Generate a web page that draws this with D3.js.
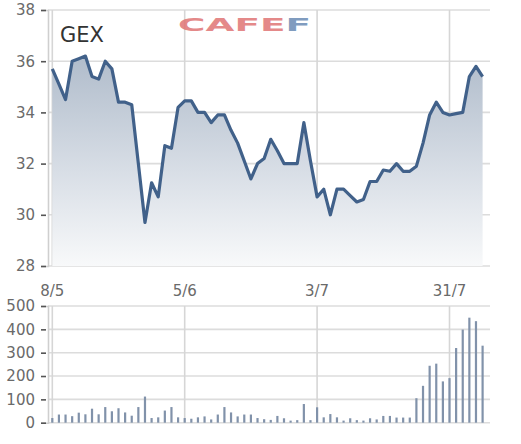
<!DOCTYPE html>
<html><head><meta charset="utf-8">
<script src="https://cdn.jsdelivr.net/npm/d3@7"></script>
<style>
html,body{margin:0;padding:0;background:#fff;}
svg{display:block;}
</style></head>
<body>
<svg id="c" width="521" height="444"></svg>
<script>
const dates = ["08/05","09/05","10/05","13/05","14/05","15/05","16/05","17/05","20/05","21/05",
"22/05","23/05","24/05","27/05","28/05","29/05","30/05","31/05","03/06","04/06",
"05/06","06/06","07/06","10/06","11/06","12/06","13/06","14/06","17/06","18/06",
"19/06","20/06","21/06","24/06","25/06","26/06","27/06","28/06","01/07","02/07",
"03/07","04/07","05/07","08/07","09/07","10/07","11/07","12/07","15/07","16/07",
"17/07","18/07","19/07","22/07","23/07","24/07","25/07","26/07","29/07","30/07",
"31/07","01/08","02/08","05/08","06/08","07/08"];
const prices = [35.7,35.1,34.5,36.0,36.1,36.2,35.4,35.3,36.0,35.7,
34.4,34.4,34.3,32.0,29.7,31.25,30.7,32.7,32.6,34.2,
34.45,34.45,34.0,34.0,33.6,33.9,33.9,33.3,32.8,32.1,
31.4,32.0,32.2,32.95,32.5,32.0,32.0,32.0,33.6,32.1,
30.7,31.0,30.0,31.0,31.0,30.75,30.5,30.6,31.3,31.3,
31.75,31.7,32.0,31.7,31.7,31.9,32.8,33.9,34.4,34.0,
33.9,33.95,34.0,35.4,35.8,35.4];
const volumes = [20,35,35,28,43,36,60,36,67,49,
62,44,30,67,112,20,23,52,67,23,
20,17,23,27,14,35,67,44,27,35,
35,20,15,12,29,19,9,11,80,11,
66,23,37,23,9,19,11,9,19,14,
29,29,22,22,22,105,158,244,253,177,
191,320,399,450,435,330];
const tickDates = ["08/05","05/06","03/07","31/07"];
const tickLabels = ["8/5","5/6","3/7","31/7"];
const priceTicks = [28,30,32,34,36,38];
const volTicks = [0,100,200,300,400,500];
const symbol = "GEX";

const svg = d3.select("#c");
const font = "'DejaVu Sans', Verdana, sans-serif";
const axisX = 48, rightX = 490;
const x = d3.scalePoint().domain(dates).range([52.3, 482.6]);
const yP = d3.scaleLinear().domain([28,38]).range([266,10]);
const yV = d3.scaleLinear().domain([0,500]).range([422.7,306]);

const defs = svg.append("defs");
const g = defs.append("linearGradient").attr("id","fillG")
  .attr("gradientUnits","userSpaceOnUse")
  .attr("x1",0).attr("y1",yP(36.2)).attr("x2",0).attr("y2",yP(28));
g.append("stop").attr("offset",0).attr("stop-color","#b0bccb");
g.append("stop").attr("offset",0.55).attr("stop-color","#d8dee6");
g.append("stop").attr("offset",1).attr("stop-color","#f8f9fa");

function panel(yScale, ticks, fmt){
  const grid = svg.append("g");
  grid.selectAll("line.h").data(ticks).join("line")
    .attr("x1",axisX).attr("x2",rightX)
    .attr("y1",d=>yScale(d)).attr("y2",d=>yScale(d))
    .attr("stroke","#dcdcdc").attr("stroke-width",1.6);
  grid.selectAll("line.v").data(tickDates).join("line")
    .attr("x1",d=>x(d)).attr("x2",d=>x(d))
    .attr("y1",yScale.range()[1]).attr("y2",yScale.range()[0])
    .attr("stroke","#d6d6d6").attr("stroke-width",1.6);
  const ax = svg.append("g").attr("transform",`translate(${axisX},0)`)
    .call(d3.axisLeft(yScale).tickValues(ticks).tickSize(7).tickPadding(6).tickFormat(fmt));
  ax.select(".domain").attr("stroke","#cfcfcf").attr("stroke-width",1.6);
  ax.selectAll(".tick line").attr("stroke","#555").attr("stroke-width",1.6).attr("x1",-7).attr("x2",-2);
  ax.selectAll("text").attr("fill","#6a6a6a").style("font-family",font).style("font-size","15px");
  return ax;
}

// price panel
panel(yP, priceTicks, d3.format("d"));

// watermark
const wm = svg.append("g").attr("transform","translate(178,31) scale(2.08,1)")
  .append("text").style("font-family","'DejaVu Sans', sans-serif")
  .style("font-weight","bold").style("font-size","18px").attr("opacity",0.85);
wm.append("tspan").attr("fill","#e07575").text("CAFE");
wm.append("tspan").attr("fill","#6a8bb5").text("F");

const area = d3.area().x((d,i)=>x(dates[i])).y0(yP(28)).y1(d=>yP(d));
svg.append("path").datum(prices).attr("d",area).attr("fill","url(#fillG)");
const line = d3.line().x((d,i)=>x(dates[i])).y(d=>yP(d));
svg.append("path").datum(prices).attr("d",line).attr("fill","none")
  .attr("stroke","#41618a").attr("stroke-width",3.2).attr("stroke-linejoin","round");

svg.append("text").attr("x",60).attr("y",42).attr("fill","#333")
  .style("font-family",font).style("font-size","21px").text(symbol);

// x labels
svg.selectAll("text.xl").data(tickDates).join("text")
  .attr("x",d=>x(d)).attr("y",296).attr("text-anchor","middle")
  .attr("fill","#6a6a6a").style("font-family",font).style("font-size","15px")
  .text((d,i)=>tickLabels[i]);

// volume panel
panel(yV, volTicks, d3.format("d"));
svg.append("g").selectAll("line").data(volumes).join("line")
  .attr("x1",(d,i)=>x(dates[i])).attr("x2",(d,i)=>x(dates[i]))
  .attr("y1",yV(0)).attr("y2",d=>yV(d))
  .attr("stroke","#8192aa").attr("stroke-width",2.2);
</script>
</body></html>
